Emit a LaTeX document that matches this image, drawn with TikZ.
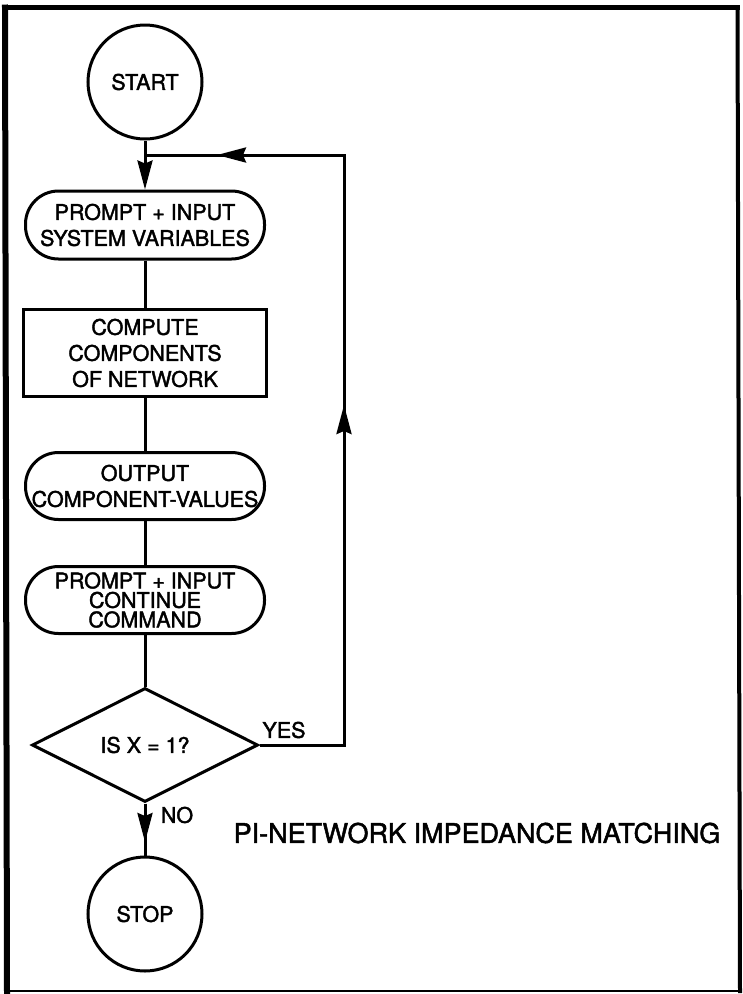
\documentclass[tikz,border=0pt]{standalone}
\usepackage{fontspec}
\setmainfont{TeX Gyre Heros}[FakeBold=1.8]
\usetikzlibrary{arrows.meta,shapes.geometric}
\begin{document}
\begin{tikzpicture}[x=1pt,y=-1pt,
  line width=3pt,
  every node/.style={inner sep=0pt, font=\fontsize{21.5}{26}\selectfont, align=center},
  term/.style={draw, circle, minimum size=114pt},
  io/.style={draw, rectangle, rounded corners=33pt, minimum width=239pt, minimum height=68pt},
  proc/.style={draw, rectangle, minimum width=243pt, minimum height=87pt},
  decide/.style={draw, diamond, minimum width=226pt, minimum height=114pt},
  arr/.style={-{Stealth[length=29pt,width=15pt,inset=3pt]}},
  lbl/.style={font=\fontsize{21.5}{26}\selectfont},
  frame/.style={line width=#1, line cap=rect}
]
\useasboundingbox (0,0) rectangle (743,994);
% frame
\draw[frame=6pt] (5,7.5) -- (7,991);
\draw[frame=5pt] (5,7.5) -- (737.5,7.5);
\draw[frame=4pt] (737.5,7.5) -- (740,991);
\draw[frame=2pt] (7,991) -- (740,991);

\node[term] (start) at (145,82) {START};
\node[io] (p1) at (145,225) {PROMPT + INPUT\\SYSTEM VARIABLES};
\node[proc] (comp) at (145,353) {COMPUTE\\COMPONENTS\\OF NETWORK};
\node[io, minimum height=67pt] (out) at (145,486) {OUTPUT\\COMPONENT-VALUES};
\node[io, minimum height=67pt, font=\fontsize{21.5}{19.5}\selectfont] (p2) at (145,600) {PROMPT + INPUT\\CONTINUE\\COMMAND};
\node[decide] (dec) at (145,745) {IS X = 1?};
\node[term] (stop) at (145,914) {STOP};

\node[lbl] (yes) at (284,730) {YES};
\node[lbl] (no) at (177,815) {NO};
\node[font=\fontsize{27}{32}\selectfont] (title) at (477,833) {PI-NETWORK IMPEDANCE MATCHING};

\coordinate (J) at (145,155);
\coordinate (TR) at (344,155);
\coordinate (BR) at (344,745);
\coordinate (uptip) at (344,405);
\coordinate (lefttip) at (217,155);
\coordinate (notip) at (145,842);

% main flow
\draw (start) -- (J);
\draw[arr] (J) -- (p1.north);
\draw (p1) -- (comp);
\draw (comp) -- (out);
\draw (out) -- (p2);
\draw (p2) -- (dec);
\draw (dec.south) -- (stop);
\draw[arr] (dec.south) -- (notip);
% feedback loop
\draw[line join=miter] (dec.east) -- (BR) -- (TR) -- (J);
\draw[arr] (BR) -- (uptip);
\draw[arr] (TR) -- (lefttip);
\end{tikzpicture}
\end{document}
